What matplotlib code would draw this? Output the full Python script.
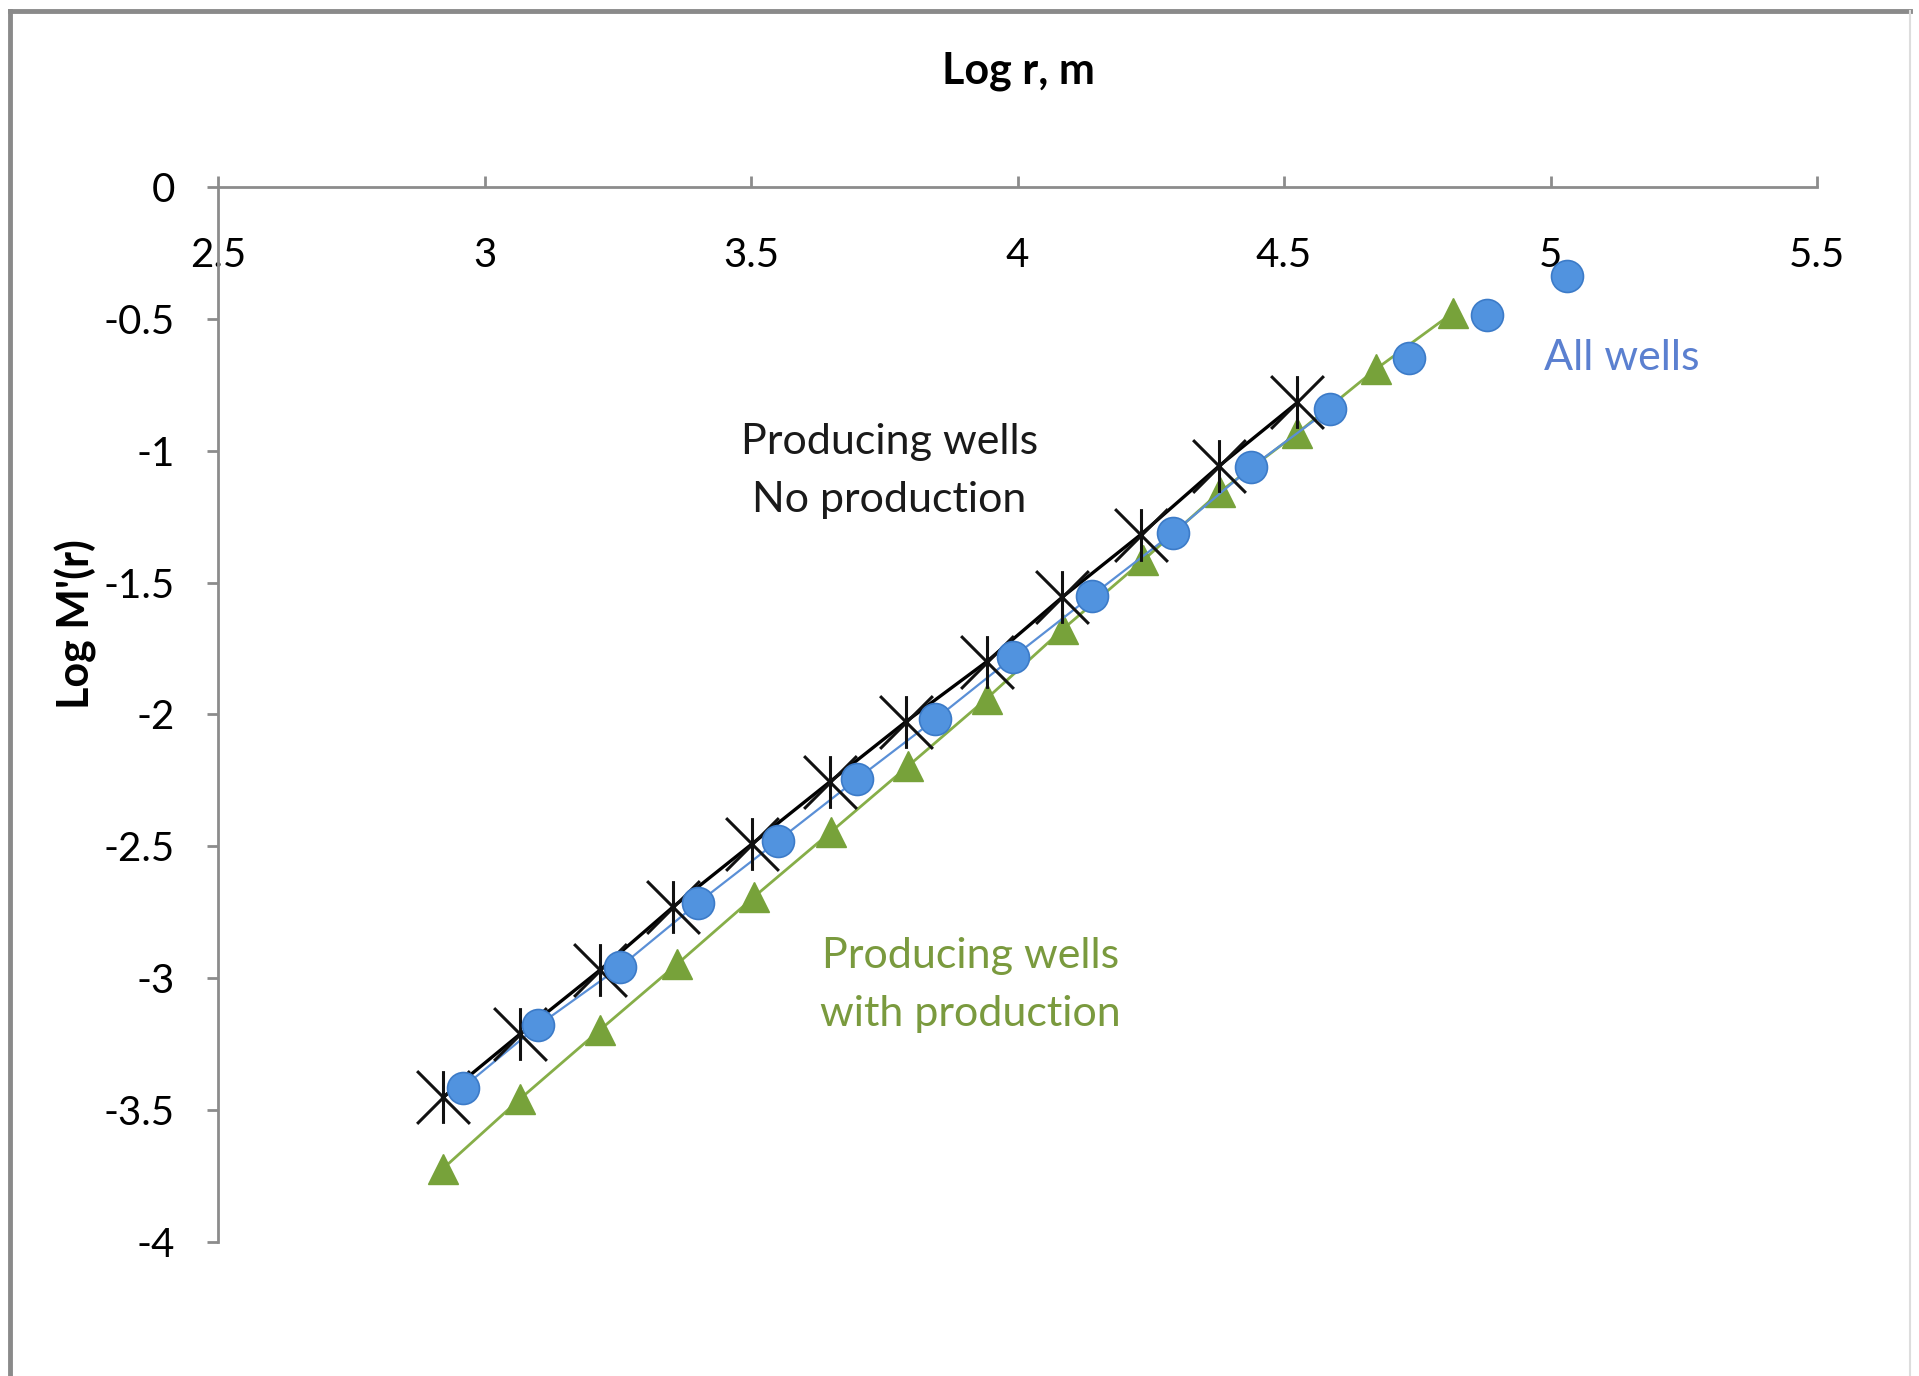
import matplotlib
matplotlib.use("Agg")
import matplotlib.pyplot as plt
from matplotlib.path import Path
from matplotlib.lines import Line2D
import numpy as np

plt.rcParams['font.family'] = ['Lato', 'DejaVu Sans']

# producing wells, no production (black asterisks)
x_noprod = [2.922, 3.067, 3.216, 3.354, 3.501, 3.648, 3.790, 3.942, 4.084, 4.231, 4.378, 4.525]
y_noprod = [-3.452, -3.211, -2.970, -2.729, -2.492, -2.255, -2.028, -1.800, -1.555, -1.318, -1.058, -0.817]

# all wells (blue circles)
x_all = [2.959, 3.101, 3.255, 3.400, 3.551, 3.698, 3.845, 3.992, 4.139, 4.291, 4.438, 4.587, 4.734, 4.881, 5.030]
y_all = [-3.415, -3.179, -2.956, -2.715, -2.478, -2.246, -2.019, -1.782, -1.550, -1.313, -1.063, -0.840, -0.650, -0.487, -0.339]

# producing wells with production (green triangles)
x_prod = [2.922, 3.067, 3.216, 3.361, 3.506, 3.650, 3.795, 3.942, 4.086, 4.236, 4.380, 4.525, 4.672, 4.816]
y_prod = [-3.722, -3.457, -3.197, -2.947, -2.691, -2.445, -2.195, -1.940, -1.675, -1.415, -1.155, -0.933, -0.691, -0.478]

xticks = [2.5, 3, 3.5, 4, 4.5, 5, 5.5]
yticks = [0, -0.5, -1, -1.5, -2, -2.5, -3, -3.5, -4]

fig = plt.figure(figsize=(19.19, 13.76), dpi=100)
ax = fig.add_axes([0.1136, 0.0974, 0.9469 - 0.1136, 0.8641 - 0.0974])

# excel-like star marker: X plus vertical bar
star = Path([(0, -1), (0, 1), (-1, -1), (1, 1), (-1, 1), (1, -1)],
            [Path.MOVETO, Path.LINETO, Path.MOVETO, Path.LINETO, Path.MOVETO, Path.LINETO])

ax.plot(x_prod, y_prod, color='#86AE48', lw=2.0, marker='^', ms=22,
        mfc='#77A23A', mec='#77A23A', zorder=2)
ax.plot(x_all[:12], y_all[:12], color='#5A8FD6', lw=1.6, zorder=3)
ax.plot(x_noprod, y_noprod, color='black', lw=2.4, marker=star, ms=38,
        mew=2.2, mec='#111111', zorder=4)
ax.plot(x_all, y_all, ls='none', marker='o', ms=23, mfc='#5193DF',
        mec='#3C7BC8', mew=1.2, zorder=5)

ax.set_xlim(2.5, 5.5)
ax.set_ylim(-4, 0)
ax.set_xticks(xticks)
ax.set_xticklabels(['2.5', '3', '3.5', '4', '4.5', '5', '5.5'])
ax.set_yticks(yticks)
ax.set_yticklabels(['0', '-0.5', '-1', '-1.5', '-2', '-2.5', '-3', '-3.5', '-4'])

for s in ['bottom', 'right']:
    ax.spines[s].set_visible(False)
for s in ['top', 'left']:
    ax.spines[s].set_color('#8C8C8C')
    ax.spines[s].set_linewidth(2.0)

ax.xaxis.set_ticks_position('top')
ax.tick_params(axis='x', direction='out', length=8, width=2, color='#8C8C8C',
               labelsize=29, pad=-71, top=True, labeltop=True, bottom=False, labelbottom=False)
ax.tick_params(axis='y', direction='out', length=8, width=2, color='#8C8C8C',
               labelsize=29, pad=23)

fig.text(1018 / 1919, 1 - 71 / 1376, 'Log r, m', fontsize=31, fontweight='bold',
         ha='center', va='center')
fig.text(76 / 1919, 1 - 624 / 1376, "Log M'(r)", fontsize=31, fontweight='bold',
         ha='center', va='center', rotation=90)

ax.text(3.76, -1.077, 'Producing wells\nNo production', fontsize=31, color='#1a1a1a',
        ha='center', va='center', linespacing=1.62)
ax.text(5.133, -0.65, 'All wells', fontsize=31, color='#5B80D0', ha='center', va='center')
ax.text(3.912, -3.026, 'Producing wells\nwith production', fontsize=31, color='#7A9A3E',
        ha='center', va='center', linespacing=1.62)

# grey frame around the picture
fig.add_artist(Line2D([10 / 1919, 10 / 1919], [0, 1 - 11 / 1376], color='#8A8A8A', lw=3.5,
                      transform=fig.transFigure))
fig.add_artist(Line2D([10 / 1919, 1910 / 1919], [1 - 11 / 1376, 1 - 11 / 1376], color='#8A8A8A', lw=3.5,
                      transform=fig.transFigure))
fig.add_artist(Line2D([1910 / 1919, 1910 / 1919], [0, 1 - 11 / 1376], color='#DDDDDD', lw=1.5,
                      transform=fig.transFigure))

fig.savefig('out.png', dpi=100)
